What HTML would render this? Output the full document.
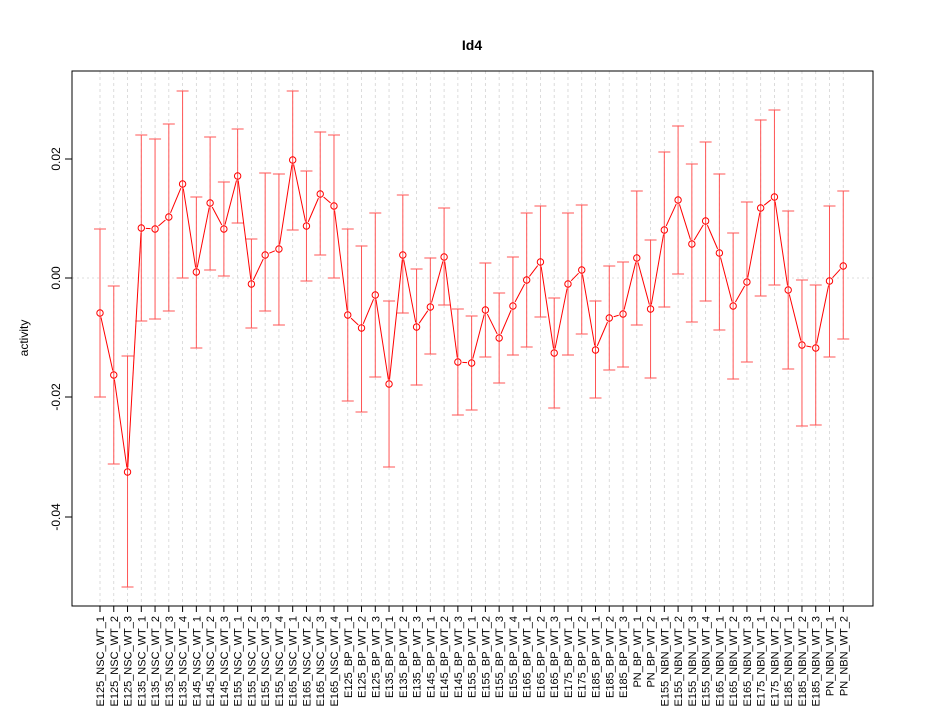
<!DOCTYPE html>
<html><head><meta charset="utf-8"><style>body{margin:0;background:#fff}svg{display:block}text{font-family:"Liberation Sans",sans-serif}</style></head>
<body>
<svg id="s" width="945" height="720" xmlns="http://www.w3.org/2000/svg"></svg>
<script>
const labels=["E125_NSC_WT_1","E125_NSC_WT_2","E125_NSC_WT_3","E135_NSC_WT_1","E135_NSC_WT_2","E135_NSC_WT_3","E135_NSC_WT_4","E145_NSC_WT_1","E145_NSC_WT_2","E145_NSC_WT_3","E155_NSC_WT_1","E155_NSC_WT_2","E155_NSC_WT_3","E155_NSC_WT_4","E165_NSC_WT_1","E165_NSC_WT_2","E165_NSC_WT_3","E165_NSC_WT_4","E125_BP_WT_1","E125_BP_WT_2","E125_BP_WT_3","E135_BP_WT_1","E135_BP_WT_2","E135_BP_WT_3","E145_BP_WT_1","E145_BP_WT_2","E145_BP_WT_3","E155_BP_WT_1","E155_BP_WT_2","E155_BP_WT_3","E155_BP_WT_4","E165_BP_WT_1","E165_BP_WT_2","E165_BP_WT_3","E175_BP_WT_1","E175_BP_WT_2","E185_BP_WT_1","E185_BP_WT_2","E185_BP_WT_3","PN_BP_WT_1","PN_BP_WT_2","E155_NBN_WT_1","E155_NBN_WT_2","E155_NBN_WT_3","E155_NBN_WT_4","E165_NBN_WT_1","E165_NBN_WT_2","E165_NBN_WT_3","E175_NBN_WT_1","E175_NBN_WT_2","E185_NBN_WT_1","E185_NBN_WT_2","E185_NBN_WT_3","PN_NBN_WT_1","PN_NBN_WT_2"];
const d=[[313,229,397],[375,286,464],[472,356,587],[228,135,321],[229,139,319],[217,124,311],[184,91,278],[272,197,348],[203,137,270],[229,182,276],[176,129,223],[284,239,328],[255,173,311],[249,174,325],[160,91,230],[226,171,281],[194,132,255],[206,135,278],[315,229,401],[328,246,412],[295,213,377],[384,301,467],[255,195,313],[327,269,385],[307,258,354],[257,208,305],[362,309,415],[363,316,410],[310,263,357],[338,293,383],[306,257,355],[280,213,347],[262,206,317],[353,298,408],[284,213,355],[270,205,334],[350,301,398],[318,266,370],[314,262,367],[258,191,325],[309,240,378],[230,152,307],[200,126,274],[244,164,322],[221,142,301],[253,174,330],[306,233,379],[282,202,362],[208,120,296],[197,110,285],[290,211,369],[345,280,426],[348,285,425],[281,206,357],[266,191,339]];
let h='';
const X=i=>100+i*13.764;
h+='<text x="472" y="50" text-anchor="middle" font-size="14" font-weight="bold">Id4</text>';
for(let i=0;i<55;i++)h+=`<line x1="${X(i)}" y1="71" x2="${X(i)}" y2="606" stroke="#d3d3d3" stroke-width="0.8" stroke-dasharray="3,3"/>`;
h+='<line x1="72" y1="278" x2="873" y2="278" stroke="#d3d3d3" stroke-width="0.8" stroke-dasharray="2,3"/>';
h+='<rect x="72" y="71" width="801" height="535" fill="none" stroke="#000"/>';
[[0.02,159],[0,278],[-0.02,397],[-0.04,517]].forEach(([v,y])=>{h+=`<line x1="65" y1="${y}" x2="72" y2="${y}" stroke="#000"/><text transform="translate(60,${y}) rotate(-90)" text-anchor="middle" font-size="12">${v.toFixed(2)}</text>`;});
h+='<line x1="72" y1="159" x2="72" y2="517" stroke="#000"/>';
h+='<text transform="translate(28,338) rotate(-90)" text-anchor="middle" font-size="12">activity</text>';
d.forEach((p,i)=>{const x=X(i);h+=`<g stroke="#f55" stroke-width="1"><line x1="${x}" y1="${p[1]}" x2="${x}" y2="${p[2]}"/><line x1="${x-6}" y1="${p[1]}" x2="${x+6}" y2="${p[1]}"/><line x1="${x-6}" y1="${p[2]}" x2="${x+6}" y2="${p[2]}"/></g>`;
h+=`<line x1="${x}" y1="606" x2="${x}" y2="612" stroke="#000"/><text transform="translate(${x+4},616) rotate(-90)" text-anchor="end" font-size="11">${labels[i]}</text>`;});
for(let i=0;i<54;i++){const x1=X(i),y1=d[i][0],x2=X(i+1),y2=d[i+1][0];const dx=x2-x1,dy=y2-y1,L=Math.hypot(dx,dy),g=4.5;if(L>2*g){const ux=dx/L,uy=dy/L;h+=`<line x1="${x1+ux*g}" y1="${y1+uy*g}" x2="${x2-ux*g}" y2="${y2-uy*g}" stroke="#f00"/>`;}}
d.forEach((p,i)=>{h+=`<circle cx="${X(i)}" cy="${p[0]}" r="3.2" fill="none" stroke="#f00"/>`;});
h+='<line x1="100" y1="606" x2="843" y2="606" stroke="#000"/>';
document.getElementById('s').innerHTML=h;
</script>
</body></html>
